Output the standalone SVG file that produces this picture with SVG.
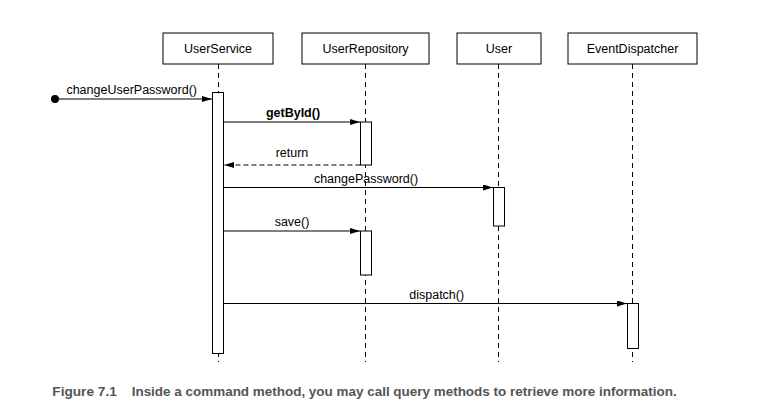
<svg xmlns="http://www.w3.org/2000/svg" width="781" height="411" viewBox="0 0 781 411">
<defs>
<marker id="ah" viewBox="0 0 10 6" refX="10" refY="3" markerWidth="10" markerHeight="6" markerUnits="userSpaceOnUse" orient="auto">
<path d="M0,0 L10,3 L0,6 z" fill="#000"/>
</marker>
<style>
.box{fill:#fff;stroke:#000;stroke-width:1}
.life{stroke:#000;stroke-width:1;stroke-dasharray:5,4;fill:none}
.act{fill:#fff;stroke:#000;stroke-width:1}
.msg{stroke:#000;stroke-width:1;fill:none;marker-end:url(#ah)}
.ret{stroke:#000;stroke-width:1;fill:none;stroke-dasharray:5,3;marker-end:url(#ah)}
.t{font-family:"Liberation Sans",Arial,sans-serif;font-size:12.5px;fill:#000}
.c{font-family:"Liberation Sans",Arial,sans-serif;font-size:12.5px;font-weight:bold;fill:#555}
</style>
</defs>
<rect width="781" height="411" fill="#fff"/>
<g id="UserService">
<line class="life" x1="218.5" y1="64" x2="218.5" y2="362"/>
<rect class="box" x="163" y="33" width="110" height="31"/>
<text class="t" x="218" y="53" text-anchor="middle">UserService</text>
<rect class="act" x="212.5" y="92.5" width="11" height="261"/>
</g>
<g id="UserRepository">
<line class="life" x1="365.5" y1="64" x2="365.5" y2="362"/>
<rect class="box" x="302" y="33" width="127" height="31"/>
<text class="t" x="365.5" y="53" text-anchor="middle">UserRepository</text>
<rect class="act" x="360.5" y="122" width="11" height="43"/>
<rect class="act" x="360.5" y="231" width="11" height="44"/>
</g>
<g id="User">
<line class="life" x1="498.5" y1="64" x2="498.5" y2="362"/>
<rect class="box" x="457" y="33" width="84" height="31"/>
<text class="t" x="499" y="53" text-anchor="middle">User</text>
<rect class="act" x="493.5" y="187.5" width="11" height="38.5"/>
</g>
<g id="EventDispatcher">
<line class="life" x1="632.5" y1="64" x2="632.5" y2="362"/>
<rect class="box" x="568" y="33" width="129" height="31"/>
<text class="t" x="632.5" y="53" text-anchor="middle">EventDispatcher</text>
<rect class="act" x="627.5" y="303.5" width="11" height="45"/>
</g>
<g id="connectors">
<circle cx="55" cy="99" r="4" fill="#000"/>
<line class="msg" x1="55" y1="99" x2="212" y2="99"/>
<text class="t" x="131.7" y="93.5" text-anchor="middle">changeUserPassword()</text>
<line class="msg" x1="223.5" y1="122" x2="360" y2="122"/>
<text class="t" x="293" y="116.5" text-anchor="middle" font-weight="bold">getById()</text>
<line class="ret" x1="360.5" y1="165" x2="224" y2="165"/>
<text class="t" x="292" y="157" text-anchor="middle">return</text>
<line class="msg" x1="223.5" y1="187.5" x2="493" y2="187.5"/>
<text class="t" x="366" y="183" text-anchor="middle">changePassword()</text>
<line class="msg" x1="223.5" y1="231" x2="360" y2="231"/>
<text class="t" x="292" y="226" text-anchor="middle">save()</text>
<line class="msg" x1="223.5" y1="303.5" x2="627" y2="303.5"/>
<text class="t" x="436.7" y="299" text-anchor="middle">dispatch()</text>
</g>
<text class="c" x="52.3" y="396.3" textLength="64.5" lengthAdjust="spacingAndGlyphs">Figure 7.1</text>
<text class="c" x="131.7" y="396.3" textLength="545" lengthAdjust="spacingAndGlyphs">Inside a command method, you may call query methods to retrieve more information.</text>
</svg>
